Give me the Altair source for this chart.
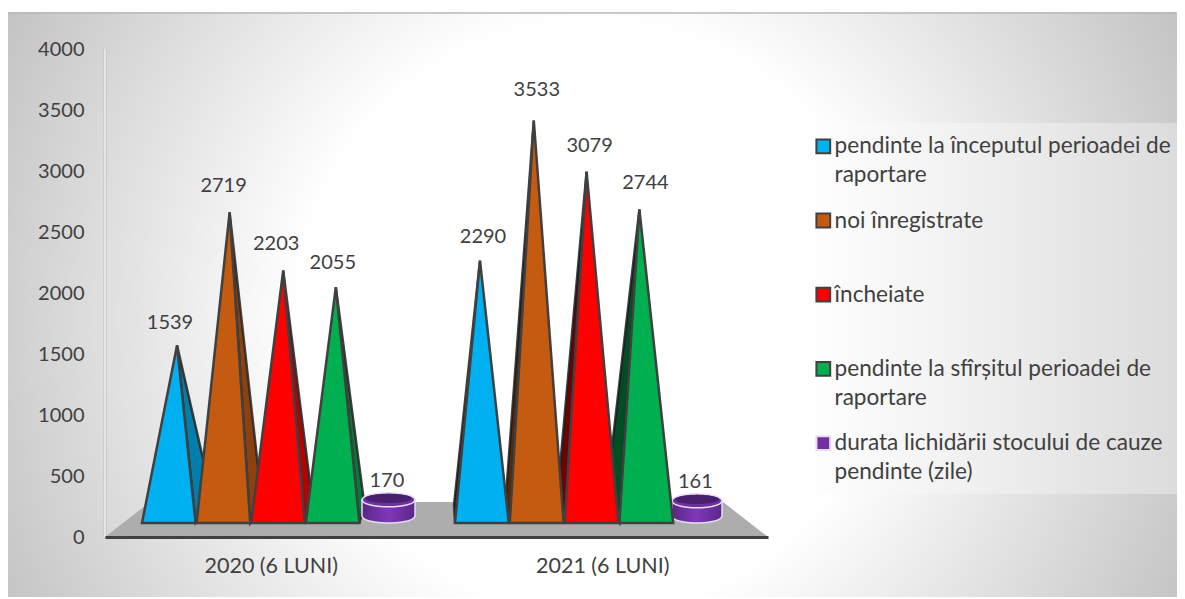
import altair as alt
import numpy as np
import pandas as pd

# ---------- chart values ----------
periods = ["2020 (6 LUNI)", "2021 (6 LUNI)"]
series = [
    "pendinte la începutul perioadei de raportare",
    "noi înregistrate",
    "încheiate",
    "pendinte la sfîrșitul perioadei de raportare",
    "durata lichidării stocului de cauze pendinte (zile)",
]
values_2020 = [1539, 2719, 2203, 2055, 170]
values_2021 = [2290, 3533, 3079, 2744, 161]
legend_lines = [
    ["pendinte la începutul perioadei de", "raportare"],
    ["noi înregistrate", ""],
    ["încheiate", ""],
    ["pendinte la sfîrșitul perioadei de", "raportare"],
    ["durata lichidării stocului de cauze", "pendinte (zile)"],
]
fill_colors = ["#00b0f0", "#c55a11", "#ff0000", "#00b050", "#7030a0"]
edge_colors = ["#404040", "#404040", "#404040", "#404040", "#e6def0"]

# ---------- 3-D look: geometry of the projected pyramids (pixels of the plot) ----------
PX = 331.5            # pixels per category on the x axis
UNIT = 488 / 4000     # pixels per axis unit


def proj(v):
    """Value -> axis units on the receding plane (3-D foreshortening)."""
    return 147.5 + 0.9246 * v


BASE = 115            # front edge of the pyramids, axis units
BACK = 262            # back edge of the pyramids, axis units
group_start = [37, 350]
slot = [54.6, 54.8]
half_gap = 1
apex_shift = [[35, 33, 32, 30], [25, 24, 22, 20]]
back_shift = [[18, 12, 8, 5], [1, 4.5, 8, 14]]
label_shift = [[-7, -6, -7, -3, 0], [3, 3, 3, 6, 0]]
label_rise = [[22, 26, 27, 24, 19], [24, 30, 26, 26, 19]]
cyl_left = [257, 567]
cyl_width = [53, 50]
CYL_RY = 7 / UNIT
CYL_BOTTOM = 21 / UNIT / 1.0

front, side, labels, body, tops, inner = [], [], [], [], [], []
for g, (period, vals) in enumerate(zip(periods, [values_2020, values_2021])):
    for i, (name, v) in enumerate(zip(series, vals)):
        key = f"{g}-{i}"
        left = group_start[g] + i * slot[g]
        right = left + slot[g] - half_gap
        if i < 4:
            ax = left + apex_shift[g][i]
            ay = proj(v)
            for x, y, y2 in [(left, BASE, BASE), (ax, ay, BASE), (right, BASE, BASE)]:
                front.append(dict(key=key, series=name, period=period, x=x / PX, y=y, y2=y2))
            if g == 0:
                bx = right + back_shift[g][i]
                t = (right - ax) / (bx - ax)
                upper = ay + (BACK - ay) * t
                pts = [(ax, ay, ay), (right, upper, BASE), (bx, BACK, BACK)]
            else:
                bx = left - back_shift[g][i]
                t = (left - bx) / (ax - bx)
                upper = BACK + (ay - BACK) * t
                pts = [(bx, BACK, BACK), (left, upper, BASE), (ax, ay, ay)]
            for x, y, y2 in pts:
                side.append(dict(key=key, series=name, period=period, x=x / PX, y=y, y2=y2))
            labels.append(dict(x=(ax + label_shift[g][i]) / PX, y=ay + label_rise[g][i] / UNIT, text=str(v)))
        else:
            l, w = cyl_left[g], cyl_width[g]
            cx, rx = l + w / 2, w / 2
            top = proj(v)
            xs = np.linspace(l, l + w, 61)
            arc = np.sqrt(np.clip(1 - ((xs - cx) / rx) ** 2, 0, 1))
            for x, a in zip(xs, arc):
                body.append(dict(key=key, x=x / PX, y=top, y2=CYL_BOTTOM - CYL_RY * a))
                tops.append(dict(key=key, x=x / PX, y=top + CYL_RY * a, y2=top - CYL_RY * a))
            xs2 = np.linspace(l + 3, l + w - 3, 61)
            arc2 = np.sqrt(np.clip(1 - ((xs2 - cx) / (rx - 3)) ** 2, 0, 1))
            for x, a in zip(xs2, arc2):
                inner.append(dict(key=key, x=x / PX, y=top + 0.2 * CYL_RY + 0.65 * CYL_RY * a,
                                  y2=top + 0.2 * CYL_RY - 0.65 * CYL_RY * a))
            labels.append(dict(x=cx / PX - 0.005, y=top + label_rise[g][i] / UNIT, text=str(v)))

front, side, labels = map(pd.DataFrame, (front, side, labels))
body, tops, inner = map(pd.DataFrame, (body, tops, inner))
floor = pd.DataFrame(dict(x=[0, 45 / PX, 618 / PX, 663 / PX], y=[0, 287, 287, 0], y2=[0, 0, 0, 0]))

# ---------- scales ----------
W, H = 663, 488
x_enc = alt.X("x:Q", scale=alt.Scale(domain=[0, 2]), title=None,
              axis=alt.Axis(values=[0.5, 1.5],
                            labelExpr=f"datum.value < 1 ? '{periods[0]}' : '{periods[1]}'",
                            labelFont="Lato", labelFontSize=21.5, labelColor="#404040",
                            labelPadding=18, ticks=False, grid=False, zindex=1,
                            domainColor="#404040", domainWidth=3))
y_enc = alt.Y("y:Q", scale=alt.Scale(domain=[0, 4000], nice=False), title=None,
              axis=alt.Axis(values=list(range(0, 4001, 500)), zindex=1, format="d",
                            labelFont="Lato", labelFontSize=20, labelColor="#404040",
                            labelPadding=21, ticks=False, grid=False, domain=False))

wrap_expr = "{" + ",".join(
    "'%s':['%s','%s']" % (s, a, b) for s, (a, b) in zip(series, legend_lines)
) + "}[datum.label]"
legend = alt.Legend(title=None, orient="none", legendX=707, legendY=86, padding=0,
                    symbolType="square", symbolSize=190, symbolStrokeWidth=2,
                    labelFont="Lato", labelFontSize=22.6, labelColor="#404040",
                    labelLimit=0, labelOffset=0, gridAlign="all", rowPadding=22.2,
                    labelExpr=wrap_expr)
fill_scale = alt.Scale(domain=series, range=fill_colors)
edge_scale = alt.Scale(domain=series, range=edge_colors)
fill_enc = alt.Fill("series:N", scale=fill_scale, sort=series, legend=legend)
edge_enc = alt.Stroke("series:N", scale=edge_scale, sort=series, legend=legend)

one = alt.Data(values=[{"a": 1}])

# ---------- layers ----------
panel = alt.Chart(one).mark_rect(
    fill=alt.RadialGradient(gradient="radial", x1=0.5, y1=0.51, x2=0.5, y2=0.51, r1=0, r2=0.57,
                            stops=[alt.GradientStop(color="#ffffff", offset=0),
                                   alt.GradientStop(color="#ffffff", offset=0.44),
                                   alt.GradientStop(color="#c2c2c2", offset=1)])
).encode(x=alt.value(-97), x2=alt.value(1072), y=alt.value(-37), y2=alt.value(548))

panel_edge = alt.Chart(one).mark_rule(color="#b8b8b8", strokeWidth=1.5).encode(
    x=alt.value(-96), x2=alt.value(1071), y=alt.value(-36))

key_panel = alt.Chart(one).mark_rect(
    fill=alt.LinearGradient(gradient="linear", x1=0, y1=0, x2=1, y2=0,
                            stops=[alt.GradientStop(color="#ffffff", offset=0),
                                   alt.GradientStop(color="#f2f2f2", offset=0.4),
                                   alt.GradientStop(color="#dcdcdc", offset=1)])
).encode(x=alt.value(698), x2=alt.value(1072), y=alt.value(74), y2=alt.value(445))

wall_outer = alt.Chart(one).mark_rule(color="#bdbdbd", strokeWidth=3).encode(
    x=alt.value(0), y=alt.value(0), y2=alt.value(H))
wall_inner = alt.Chart(one).mark_rule(color="#ffffff", strokeWidth=1.2).encode(
    x=alt.value(0), y=alt.value(0), y2=alt.value(H))

floor_layer = alt.Chart(floor).mark_area(color="#adadad").encode(
    x=x_enc, y=y_enc, y2="y2:Q")

side_fill = alt.Chart(side).mark_area().encode(
    x=x_enc, y=y_enc, y2="y2:Q", fill=fill_enc, stroke=edge_enc, detail="key:N",
    strokeWidth=alt.value(2.5))
shade_a = alt.Chart(side[side.period == periods[0]]).mark_area(color="#000000", opacity=0.28).encode(
    x=x_enc, y=y_enc, y2="y2:Q", detail="key:N")
shade_b = alt.Chart(side[side.period == periods[1]]).mark_area(color="#000000", opacity=0.55).encode(
    x=x_enc, y=y_enc, y2="y2:Q", detail="key:N")

cyl_body = alt.Chart(body).mark_area(
    fill=alt.LinearGradient(gradient="linear", x1=0, y1=0, x2=1, y2=0,
                            stops=[alt.GradientStop(color="#5a2688", offset=0),
                                   alt.GradientStop(color="#8038b8", offset=0.5),
                                   alt.GradientStop(color="#5a2688", offset=1)]),
    stroke="#e6def0", strokeWidth=1.5
).encode(x=x_enc, y=y_enc, y2="y2:Q", detail="key:N")
cyl_top = alt.Chart(tops).mark_area(fill="#7030a0", stroke="#e6def0", strokeWidth=1.5).encode(
    x=x_enc, y=y_enc, y2="y2:Q", detail="key:N")
cyl_inner = alt.Chart(inner).mark_area(fill="#47206e").encode(
    x=x_enc, y=y_enc, y2="y2:Q", detail="key:N")

front_layer = alt.Chart(front).mark_area().encode(
    x=x_enc, y=y_enc, y2="y2:Q", fill=fill_enc, stroke=edge_enc, detail="key:N",
    strokeWidth=alt.value(2.5))

label_layer = alt.Chart(labels).mark_text(
    font="Lato", fontSize=20, color="#404040", baseline="middle"
).encode(x=x_enc, y=y_enc, text="text:N")

chart = alt.layer(
    panel, panel_edge, key_panel, wall_outer, wall_inner, floor_layer, side_fill, shade_a, shade_b,
    cyl_body, cyl_top, cyl_inner, front_layer, label_layer
).properties(
    width=W, height=H,
    padding={"left": 0, "top": 4, "right": 0, "bottom": 0},
    background="#ffffff",
    config={"view": {"stroke": None}, "style": {"guide-label": {"lineHeight": 29}}},
)

chart.save("out.html", embed_options={"renderer": "svg", "actions": False})
